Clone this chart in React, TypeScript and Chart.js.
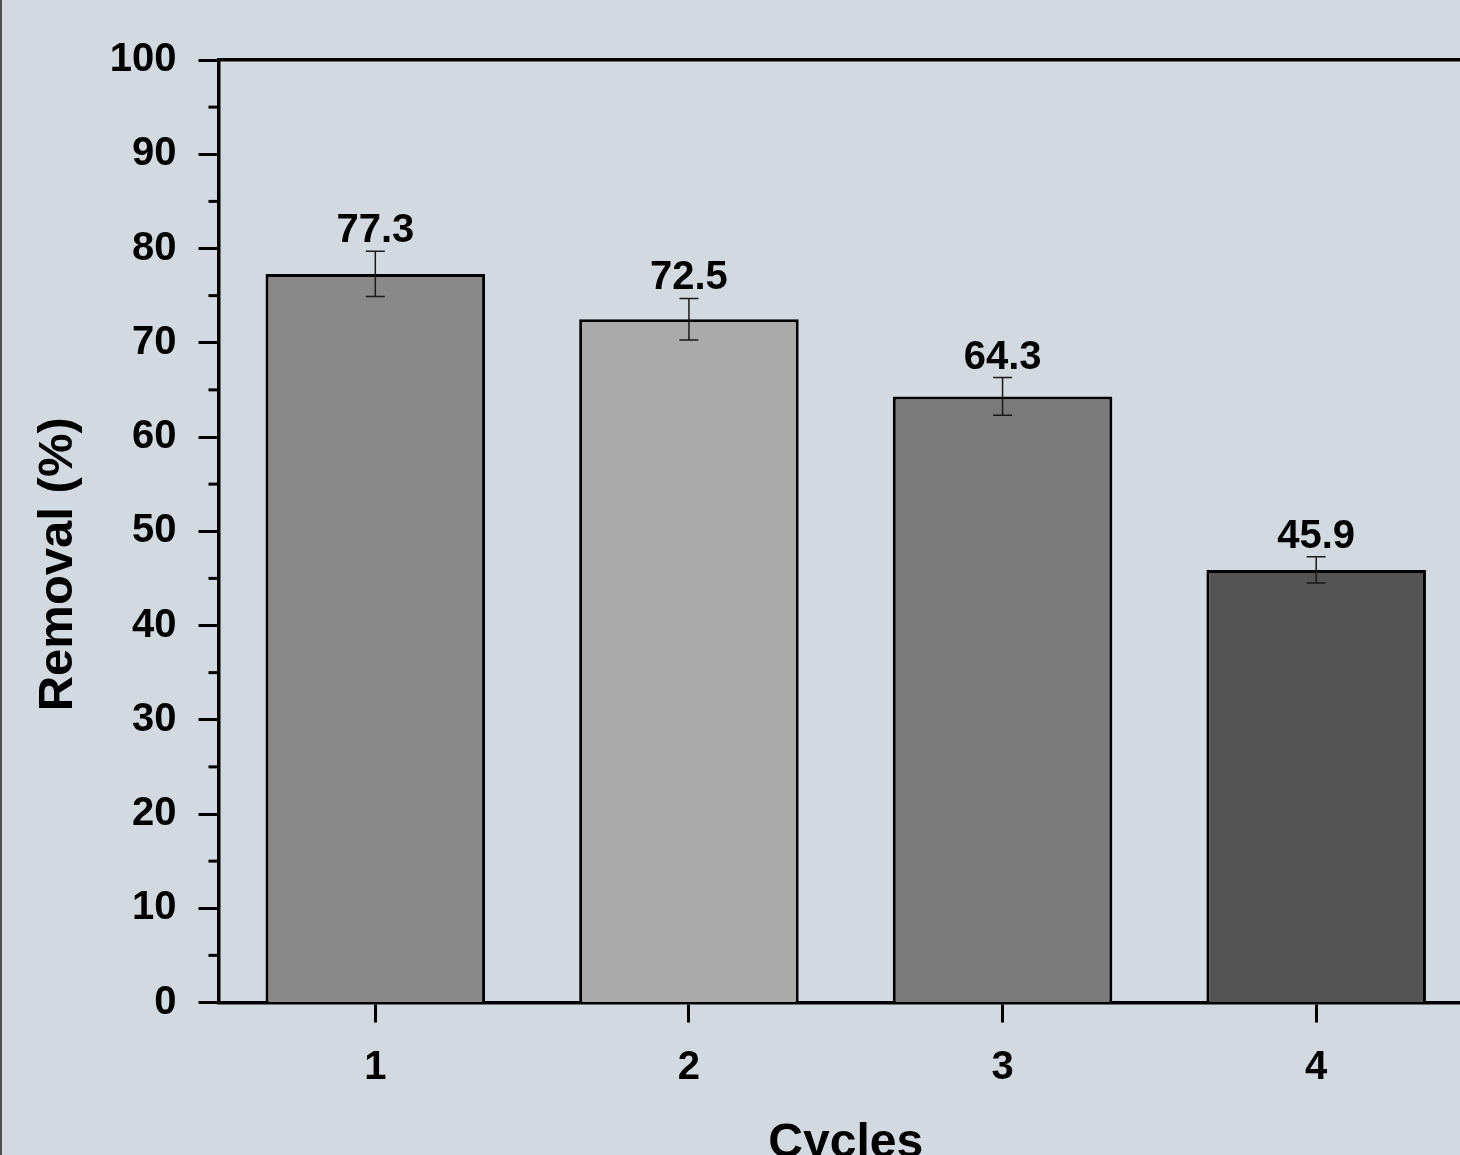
import React, { useEffect, useRef } from 'react';
import { Chart, registerables } from 'chart.js';

Chart.register(...registerables);

// ---- data ----
const categories = ['1', '2', '3', '4'];
const removal = [77.3, 72.5, 64.3, 45.9];
const removalError = [2.4, 2.2, 2.0, 1.4];
const yMinorTicks = [5, 15, 25, 35, 45, 55, 65, 75, 85, 95];

// ---- style ----
const barColors = ['#898989', '#aaaaaa', '#7a7a7a', '#545454'];
const FONT = '"Liberation Sans", Arial, Helvetica, sans-serif';
const BG = '#d2d9e1';
const CANVAS_W = 1500;
const CANVAS_H = 1200;

const decor = {
  id: 'decor',
  beforeDraw(chart: any) {
    const { ctx, width, height } = chart;
    ctx.save();
    ctx.fillStyle = BG;
    ctx.fillRect(0, 0, width, height);
    ctx.fillStyle = '#505050';
    ctx.fillRect(0, 0, 2, height);
    ctx.restore();
  },
  afterDatasetsDraw(chart: any) {
    const { ctx } = chart;
    const meta = chart.getDatasetMeta(0);
    const y = chart.scales.y;
    ctx.save();
    meta.data.forEach((bar: any, i: number) => {
      const x = bar.x;
      const hi = y.getPixelForValue(removal[i] + removalError[i]);
      const lo = y.getPixelForValue(removal[i] - removalError[i]);
      ctx.strokeStyle = '#1a1a1a';
      ctx.lineWidth = 1.5;
      ctx.beginPath();
      ctx.moveTo(x, hi);
      ctx.lineTo(x, lo);
      ctx.moveTo(x - 9.5, hi);
      ctx.lineTo(x + 9.5, hi);
      ctx.moveTo(x - 9.5, lo);
      ctx.lineTo(x + 9.5, lo);
      ctx.stroke();
      ctx.fillStyle = '#000';
      ctx.font = `bold 40px ${FONT}`;
      ctx.textAlign = 'center';
      ctx.textBaseline = 'alphabetic';
      ctx.fillText(removal[i].toFixed(1), x, hi - 9);
    });
    ctx.restore();
  },
  afterDraw(chart: any) {
    const { ctx, chartArea } = chart;
    const y = chart.scales.y;
    ctx.save();
    ctx.strokeStyle = '#000';
    ctx.lineWidth = 3;
    yMinorTicks.forEach((v) => {
      const py = y.getPixelForValue(v);
      ctx.beginPath();
      ctx.moveTo(chartArea.left - 10, py);
      ctx.lineTo(chartArea.left, py);
      ctx.stroke();
    });
    // y-axis title
    const cy = (chartArea.top + chartArea.bottom) / 2 + 33;
    ctx.translate(58, cy);
    ctx.rotate(-Math.PI / 2);
    ctx.fillStyle = '#000';
    ctx.font = `bold 49px ${FONT}`;
    ctx.textAlign = 'center';
    ctx.textBaseline = 'middle';
    ctx.fillText('Removal (%)', 0, 0);
    ctx.restore();
  },
};

export default function App() {
  const ref = useRef<HTMLCanvasElement | null>(null);

  useEffect(() => {
    if (!ref.current) return;
    const chart = new Chart(ref.current, {
      type: 'bar',
      data: {
        labels: categories,
        datasets: [
          {
            data: removal,
            backgroundColor: barColors,
            borderColor: '#000',
            borderWidth: 3,
            barPercentage: 0.7,
            categoryPercentage: 1,
          },
        ],
      },
      options: {
        animation: false,
        responsive: false,
        devicePixelRatio: 1,
        layout: { padding: { top: 60, right: 27, bottom: 0, left: 0 } },
        plugins: {
          legend: { display: false },
          tooltip: { enabled: false },
        },
        scales: {
          x: {
            type: 'category',
            position: 'bottom',
            z: 1,
            offset: true,
            grid: {
              display: true,
              drawOnChartArea: false,
              drawTicks: true,
              tickLength: 20,
              tickWidth: 3,
              tickColor: '#000',
              offset: false,
            },
            border: { display: true, color: '#000', width: 3.5 },
            ticks: {
              color: '#000',
              font: { family: FONT, size: 40, weight: 'bold' },
              padding: 21,
              maxRotation: 0,
            },
            title: {
              display: true,
              text: 'Cycles',
              color: '#000',
              font: { family: FONT, size: 48, weight: 'bold' },
              padding: { top: 0, bottom: 27 },
            },
            afterFit(s: any) {
              s.height = 197.5;
            },
          },
          xTop: {
            type: 'category',
            position: 'top',
            z: 1,
            grid: { display: false },
            border: { display: true, color: '#000', width: 3.5 },
            ticks: { display: false },
            afterFit(s: any) {
              s.height = 0;
            },
          },
          y: {
            min: 0,
            max: 100,
            z: 1,
            grid: {
              drawOnChartArea: false,
              drawTicks: true,
              tickLength: 20,
              tickWidth: 3,
              tickColor: '#000',
            },
            border: { display: true, color: '#000', width: 3.5 },
            ticks: {
              stepSize: 10,
              color: '#000',
              font: { family: FONT, size: 40, weight: 'bold' },
              padding: 22,
            },
            afterFit(s: any) {
              s.width = 218.5;
            },
          },
        },
      } as any,
      plugins: [decor],
    });
    return () => chart.destroy();
  }, []);

  return (
    <div
      style={{
        position: 'fixed',
        left: 0,
        top: 0,
        width: 1460,
        height: 1155,
        overflow: 'hidden',
        background: BG,
      }}
    >
      <canvas ref={ref} width={CANVAS_W} height={CANVAS_H} style={{ display: 'block' }} />
    </div>
  );
}
